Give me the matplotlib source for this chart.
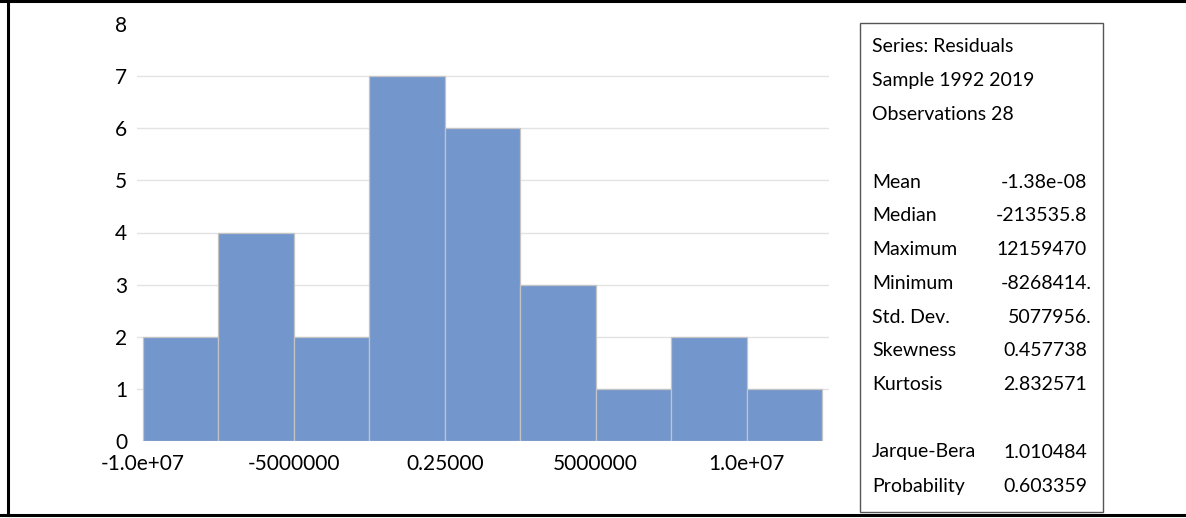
import matplotlib
matplotlib.use("Agg")
import matplotlib.pyplot as plt
from matplotlib.lines import Line2D
from matplotlib.patches import Rectangle

# ---- data ----
bin_edges = [-10000000, -7500000, -5000000, -2500000, 0, 2500000, 5000000, 7500000, 10000000, 12500000]
counts = [2, 4, 2, 7, 6, 3, 1, 2, 1]
xtick_values = [-10000000, -5000000, 0, 5000000, 10000000]
xtick_labels = ["-1.0e+07", "-5000000", "0.25000", "5000000", "1.0e+07"]
ytick_values = [0, 1, 2, 3, 4, 5, 6, 7, 8]
header_lines = ["Series: Residuals", "Sample 1992 2019", "Observations 28"]
stat_names = ["Mean", "Median", "Maximum", "Minimum", "Std. Dev.", "Skewness", "Kurtosis"]
stat_values = ["-1.38e-08", "-213535.8", "12159470", "-8268414.", "5077956.", "0.457738", "2.832571"]
test_names = ["Jarque-Bera", "Probability"]
test_values = ["1.010484", "0.603359"]

plt.rcParams['font.family'] = ['Lato', 'DejaVu Sans']

W, H = 1186, 518
fig = plt.figure(figsize=(W / 100, H / 100), dpi=100)

def fx(px):
    return px / W

def fy(py):
    return 1 - py / H

ax = fig.add_axes([fx(137), fy(441), fx(829) - fx(137), fy(24) - fy(441)])
widths = [bin_edges[i + 1] - bin_edges[i] for i in range(len(counts))]
ax.bar(bin_edges[:-1], counts, width=widths, align='edge', color='#7396CD',
       edgecolor='#C4C4C4', linewidth=0.9, zorder=2)
ax.set_xlim(-10200000, 12730000)
ax.set_ylim(0, 8)
ax.set_yticks(ytick_values)
ax.set_yticklabels([str(v) for v in ytick_values])
ax.set_xticks(xtick_values)
ax.set_xticklabels(xtick_labels)
for v in ytick_values[1:-1]:
    ax.axhline(v, color='#E3E3E3', linewidth=1.0, zorder=1)
for s in ax.spines.values():
    s.set_visible(False)
ax.tick_params(axis='both', length=0, labelsize=15, colors='black')
ax.tick_params(axis='y', pad=7)
ax.tick_params(axis='x', pad=9)
for lab in ax.get_yticklabels():
    lab.set_verticalalignment('center_baseline')

# stats box
box = Rectangle((fx(860), fy(512)), fx(1103) - fx(860), fy(23) - fy(512),
                transform=fig.transFigure, fill=False, edgecolor='#555555', linewidth=1.0)
fig.add_artist(box)

fs = 14
tx = fx(872)
vx = 1087
dot_w = 5
y0 = 47
step = 33.8

def value_x(v):
    return fx(vx + dot_w) if v.endswith('.') else fx(vx)

for i, line in enumerate(header_lines):
    fig.text(tx, fy(y0 + i * step), line, fontsize=fs, va='center', ha='left')
ys = 182
for i, (n, v) in enumerate(zip(stat_names, stat_values)):
    y = fy(ys + i * step)
    fig.text(tx, y, n, fontsize=fs, va='center', ha='left')
    fig.text(value_x(v), y, v, fontsize=fs, va='center', ha='right')
yt = 452
for i, (n, v) in enumerate(zip(test_names, test_values)):
    y = fy(yt + i * 34.5)
    fig.text(tx, y, n, fontsize=fs, va='center', ha='left')
    fig.text(value_x(v), y, v, fontsize=fs, va='center', ha='right')

# figure frame (top, left, bottom)
fig.add_artist(Line2D([0, 1], [fy(1), fy(1)], transform=fig.transFigure, color='black', linewidth=2.2))
fig.add_artist(Line2D([fx(8), fx(8)], [fy(1), fy(515)], transform=fig.transFigure, color='black', linewidth=2.2))
fig.add_artist(Line2D([0, 1], [fy(515), fy(515)], transform=fig.transFigure, color='black', linewidth=2.2))

fig.savefig("out.png", dpi=100)
